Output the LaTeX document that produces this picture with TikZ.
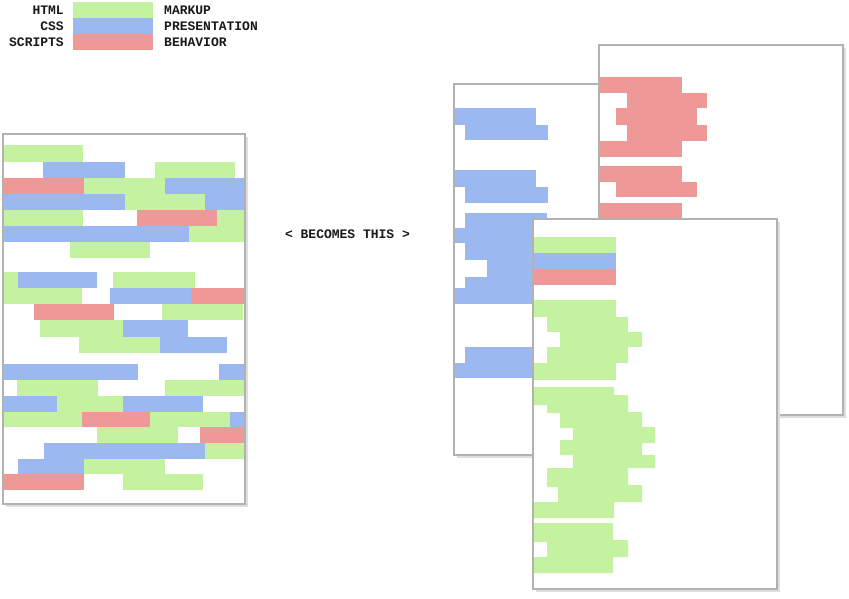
\documentclass[tikz,border=0pt]{standalone}
\usepackage{fontspec}
\newfontfamily\pixfont{Liberation Mono}
\definecolor{htmlc}{HTML}{C4F2A0}
\definecolor{cssc}{HTML}{9BB8F0}
\definecolor{jsc}{HTML}{EE9898}
\newcommand\rb[5]{\fill[#1] (#2,#3) rectangle (#4,#5);}
\begin{document}
\begin{tikzpicture}[x=1pt,y=-1pt,
  pgfill/.style={fill=white},
  pgline/.style={draw=black!30,line width=1.5pt},
  pgshadow/.style={fill=black!13},
  cg/.style={fill=htmlc}, cb/.style={fill=cssc}, cr/.style={fill=jsc},
  lbl/.style={inner sep=0pt,text=black!90,font=\pixfont\bfseries\fontsize{13}{13}\selectfont}]
\useasboundingbox (0,0) rectangle (849,599);

% ---------- left page ----------
\fill[pgshadow] (6,137) rectangle (248,507);
\fill[pgfill] (3,134) rectangle (245,504);
\rb{cg}{4}{145}{83}{162}
\rb{cb}{43}{162}{125}{178} \rb{cg}{155}{162}{235}{178}
\rb{cr}{4}{178}{84}{194} \rb{cg}{84}{178}{165}{194} \rb{cb}{165}{178}{245}{194}
\rb{cb}{4}{194}{125}{210} \rb{cg}{125}{194}{205}{210} \rb{cb}{205}{194}{245}{210}
\rb{cg}{4}{210}{83}{226} \rb{cr}{137}{210}{217}{226} \rb{cg}{217}{210}{245}{226}
\rb{cb}{4}{226}{189}{242} \rb{cg}{189}{226}{245}{242}
\rb{cg}{70}{242}{150}{258}
\rb{cg}{4}{272}{18}{288} \rb{cb}{18}{272}{97}{288} \rb{cg}{113}{272}{195}{288}
\rb{cg}{4}{288}{82}{304} \rb{cb}{110}{288}{191}{304} \rb{cr}{191}{288}{245}{304}
\rb{cr}{34}{304}{114}{320} \rb{cg}{162}{304}{243}{320}
\rb{cg}{40}{320}{123}{337} \rb{cb}{123}{320}{188}{337}
\rb{cg}{79}{337}{160}{353} \rb{cb}{160}{337}{227}{353}
\rb{cb}{4}{364}{138}{380} \rb{cb}{219}{364}{245}{380}
\rb{cg}{17}{380}{98}{396} \rb{cg}{165}{380}{245}{396}
\rb{cb}{4}{396}{57}{412} \rb{cg}{57}{396}{123}{412} \rb{cb}{123}{396}{203}{412}
\rb{cg}{4}{412}{82}{427} \rb{cr}{82}{412}{150}{427} \rb{cg}{150}{412}{230}{427} \rb{cb}{230}{412}{245}{427}
\rb{cg}{97}{427}{178}{443} \rb{cr}{200}{427}{245}{443}
\rb{cb}{44}{443}{205}{459} \rb{cg}{205}{443}{245}{459}
\rb{cb}{18}{459}{84}{474} \rb{cg}{84}{459}{165}{474}
\rb{cr}{4}{474}{84}{490} \rb{cg}{123}{474}{203}{490}
\draw[pgline] (3,134) rectangle (245,504);

% ---------- page 1 (presentation) ----------
\fill[pgshadow] (457,87) rectangle (701,458);
\fill[pgfill] (454,84) rectangle (698,455);
\rb{cb}{455}{108}{536}{125} \rb{cb}{465}{125}{548}{140}
\rb{cb}{455}{170}{536}{187} \rb{cb}{465}{187}{548}{203}
\rb{cb}{465}{213}{547}{228} \rb{cb}{455}{228}{547}{243}
\rb{cb}{465}{243}{547}{260} \rb{cb}{487}{260}{547}{277}
\rb{cb}{465}{277}{547}{288} \rb{cb}{455}{288}{547}{304}
\rb{cb}{465}{347}{547}{363} \rb{cb}{455}{363}{547}{378}
\draw[pgline] (454,84) rectangle (698,455);

% ---------- page 2 (behavior) ----------
\fill[pgshadow] (602,48) rectangle (846,418);
\fill[pgfill] (599,45) rectangle (843,415);
\rb{cr}{600}{77}{682}{93} \rb{cr}{627}{93}{707}{108} \rb{cr}{616}{108}{697}{125}
\rb{cr}{627}{125}{707}{141} \rb{cr}{600}{141}{682}{157}
\rb{cr}{600}{166}{682}{182} \rb{cr}{616}{182}{697}{197}
\rb{cr}{600}{203}{682}{225}
\draw[pgline] (599,45) rectangle (843,415);

% ---------- page 3 (markup) ----------
\fill[pgshadow] (536,222) rectangle (780,592);
\fill[pgfill] (533,219) rectangle (777,589);
\rb{cg}{534}{237}{616}{253} \rb{cb}{534}{253}{616}{269} \rb{cr}{534}{269}{616}{285}
\rb{cg}{534}{300}{616}{317} \rb{cg}{547}{317}{628}{332} \rb{cg}{560}{332}{642}{347}
\rb{cg}{547}{347}{628}{363} \rb{cg}{534}{363}{616}{380}
\fill[cg] (534,387) -- (614,387) -- (614,395) -- (628,395) -- (628,412) -- (642,412)
  -- (642,427) -- (655,427) -- (655,443) -- (642,443) -- (642,455) -- (655,455)
  -- (655,468) -- (628,468) -- (628,485) -- (642,485) -- (642,502) -- (614,502)
  -- (614,518) -- (534,518) -- (534,502) -- (558,502) -- (558,487) -- (547,487)
  -- (547,468) -- (573,468) -- (573,455) -- (560,455) -- (560,440) -- (573,440)
  -- (573,428) -- (560,428) -- (560,413) -- (547,413) -- (547,405) -- (534,405) -- cycle;
\fill[cg] (534,523) -- (613,523) -- (613,540) -- (628,540) -- (628,557) -- (613,557)
  -- (613,573) -- (534,573) -- (534,557) -- (547,557) -- (547,542) -- (534,542) -- cycle;
\draw[pgline] (533,219) rectangle (777,589);

% ---------- legend ----------
\rb{cg}{73}{2}{153}{18}
\rb{cb}{73}{18}{153}{34}
\rb{cr}{73}{34}{153}{50}
\node[lbl,anchor=base east] (html) at (64,15) {HTML};
\node[lbl,anchor=base east] (css) at (64,31) {CSS};
\node[lbl,anchor=base east] (scripts) at (64,47) {SCRIPTS};
\node[lbl,anchor=base west] (markup) at (164,15) {MARKUP};
\node[lbl,anchor=base west] (presentation) at (164,31) {PRESENTATION};
\node[lbl,anchor=base west] (behavior) at (164,47) {BEHAVIOR};

\node[lbl,anchor=base] (becomes) at (347.5,238.5) {< BECOMES THIS >};
\end{tikzpicture}
\end{document}
